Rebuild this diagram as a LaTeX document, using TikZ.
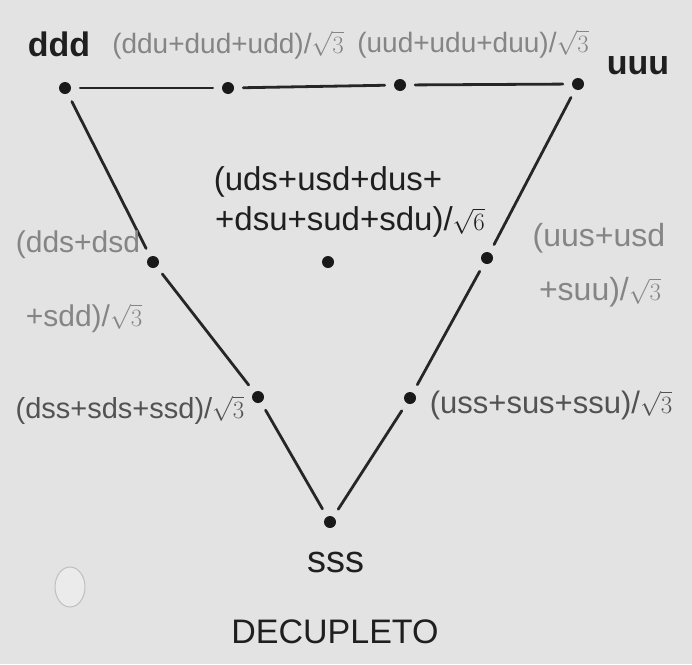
\documentclass[tikz,border=0pt]{standalone}
\usepackage{fontspec}
\setmainfont{Liberation Sans}
\newcommand{\fsz}[1]{\fontsize{#1}{#1}\selectfont}
\begin{document}
\begin{tikzpicture}[x=1pt,y=-1pt,
  dot/.style={circle,fill=black!90,inner sep=0pt,minimum size=12pt},
  edge/.style={line width=2.8pt,black!85,line cap=round,shorten <=9pt,shorten >=9pt},
  blk/.style={text=black!88,inner sep=0pt},
  gry/.style={text=black!48,inner sep=0pt},
  dgr/.style={text=black!68,inner sep=0pt}]
\fill[black!11] (0,0) rectangle (692,664);
\useasboundingbox (0,0) rectangle (692,664);
% hole
\fill[white!92!black] (70,587) ellipse (15 and 20);
\draw[black!25,line width=1pt] (70,587) ellipse (15 and 20);
% dots
\node[dot] (ddd) at (65,88) {};
\node[dot] (t1) at (228,88) {};
\node[dot] (t2) at (400,85) {};
\node[dot] (uuu) at (578,84) {};
\node[dot] (l1) at (153,262) {};
\node[dot] (l2) at (258,397) {};
\node[dot] (sss) at (330,522) {};
\node[dot] (r1) at (487,258) {};
\node[dot] (r2) at (410,398) {};
\node[dot] (c) at (328,262) {};
% edges
\draw[edge] (ddd) -- (t1);
\draw[edge] (t1) -- (t2);
\draw[edge] (t2) -- (uuu);
\draw[edge] (ddd) -- (l1);
\draw[edge] (l1) -- (l2);
\draw[edge] (l2) -- (sss);
\draw[edge] (uuu) -- (r1);
\draw[edge] (r1) -- (r2);
\draw[edge] (r2) -- (sss);
% labels
\node[blk,font=\fsz{34}\bfseries] (lddd) at (59,44) {ddd};
\node[blk,font=\fsz{34}\bfseries] (luuu) at (638,66) {uuu};
\node[gry,font=\fsz{28}] (lt1) at (228,45) {(ddu+dud+udd)/$\sqrt{3}$};
\node[gry,font=\fsz{28}] (lt2) at (473,44) {(uud+udu+duu)/$\sqrt{3}$};
\node[blk,font=\fsz{33}] (lc1) at (328,182) {(uds+usd+dus+};
\node[blk,font=\fsz{33}] (lc2) at (350,222) {+dsu+sud+sdu)/$\sqrt{6}$};
\node[gry,font=\fsz{30}] (ll1a) at (78,245) {(dds+dsd};
\node[gry,font=\fsz{30}] (ll1b) at (84,318) {+sdd)/$\sqrt{3}$};
\node[dgr,font=\fsz{29}] (ll2) at (130,410) {(dss+sds+ssd)/$\sqrt{3}$};
\node[gry,font=\fsz{32}] (lr1a) at (599,238) {(uus+usd};
\node[gry,font=\fsz{32}] (lr1b) at (600,292) {+suu)/$\sqrt{3}$};
\node[dgr,font=\fsz{31}] (lr2) at (551,405) {(uss+sus+ssu)/$\sqrt{3}$};
\node[blk,font=\fsz{38}] (lsss) at (336,562) {sss};
\node[blk,font=\fsz{34}] (title) at (335,632) {DECUPLETO};
\end{tikzpicture}
\end{document}
